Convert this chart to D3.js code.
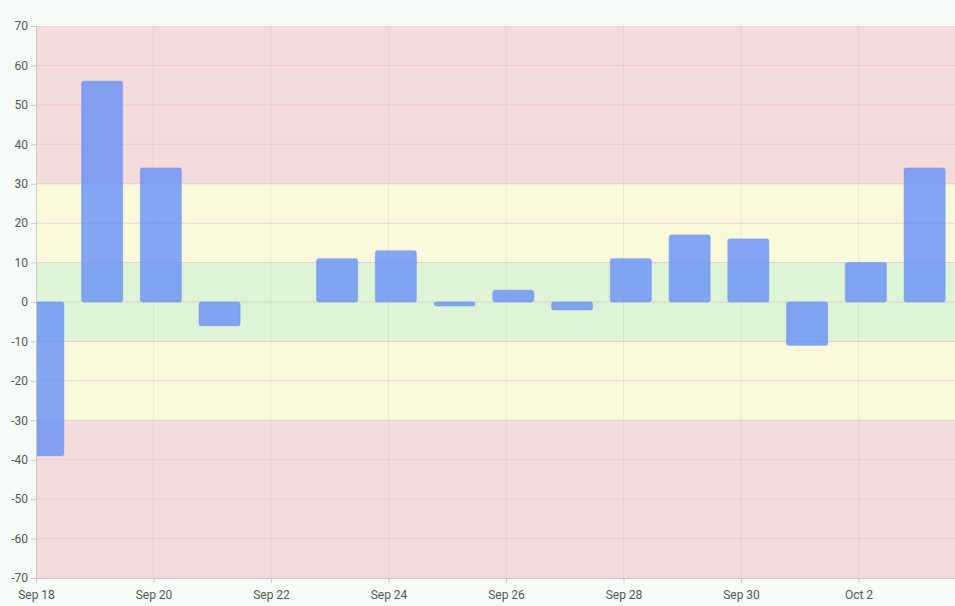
<!DOCTYPE html>
<html>
<head>
<meta charset="utf-8">
<script src="https://cdn.jsdelivr.net/npm/d3@7"></script>
<style>
  body { margin: 0; background: #f7fbf7; }
  svg { display: block; }
  .axis text { fill: #555; font-size: 12px; font-family: Roboto, sans-serif; }
  .axis path, .axis line { stroke: #c8c8c8; }
</style>
</head>
<body>
<div id="chart"></div>
<script>
// daily values, Sep 18 .. Oct 3 (null = no bar)
const days = ["2023-09-18", "2023-09-19", "2023-09-20", "2023-09-21", "2023-09-22", "2023-09-23",
  "2023-09-24", "2023-09-25", "2023-09-26", "2023-09-27", "2023-09-28", "2023-09-29",
  "2023-09-30", "2023-10-01", "2023-10-02", "2023-10-03"];
const values = [-39, 56, 34, -6, null, 11, 13, -1, 3, -2, 11, 17, 16, -11, 10, 34];

// coloured zones behind the bars
const zones = [
  { from: 30, to: 70, color: "#f5dcdc" },
  { from: 10, to: 30, color: "#f9f9dc" },
  { from: -10, to: 10, color: "#dff3d6" },
  { from: -30, to: -10, color: "#f9f9dc" },
  { from: -70, to: -30, color: "#f5dcdc" }
];
const yTicks = d3.range(-70, 71, 10);

const width = 955, height = 606;
const margin = { top: 26, right: 0, bottom: 28, left: 36 };

const svg = d3.select("#chart").append("svg")
  .attr("width", width)
  .attr("height", height);

const parse = d3.timeParse("%Y-%m-%d");
const dayPx = 58.75;

const x = d3.scaleTime()
  .domain([parse(days[0]), parse("2023-10-04")])
  .range([margin.left, margin.left + 16 * dayPx]);

const y = d3.scaleLinear()
  .domain([-70, 70])
  .range([height - margin.bottom, margin.top]);

svg.append("clipPath").attr("id", "plot")
  .append("rect")
  .attr("x", margin.left).attr("y", margin.top)
  .attr("width", width - margin.left)
  .attr("height", height - margin.top - margin.bottom);

const plot = svg.append("g").attr("clip-path", "url(#plot)");

plot.selectAll("rect.zone")
  .data(zones)
  .enter().append("rect")
  .attr("class", "zone")
  .attr("x", margin.left)
  .attr("width", width - margin.left)
  .attr("y", d => y(d.to))
  .attr("height", d => y(d.from) - y(d.to))
  .style("fill", d => d.color);

// grid
plot.append("g")
  .selectAll("line")
  .data(yTicks)
  .enter().append("line")
  .attr("x1", margin.left).attr("x2", width)
  .attr("y1", d => y(d)).attr("y2", d => y(d))
  .style("stroke", d => d === 0 ? "#d3d6cc" : "#e8cccc")
  .style("stroke-width", 1);

const xTicks = days.filter((d, i) => i % 2 === 0).map(parse);
plot.append("g")
  .selectAll("line")
  .data(xTicks)
  .enter().append("line")
  .attr("x1", d => x(d)).attr("x2", d => x(d))
  .attr("y1", margin.top).attr("y2", height - margin.bottom)
  .style("stroke", "#000")
  .style("stroke-opacity", 0.05);

// bars, offset a few hours into each day
const offset = 3 * 3600 * 1000;
const barW = 41;
plot.selectAll("rect.bar")
  .data(days.map((d, i) => ({ date: parse(d), value: values[i] })).filter(d => d.value !== null))
  .enter().append("rect")
  .attr("class", "bar")
  .attr("x", d => x(new Date(+d.date + offset)) - barW / 2)
  .attr("width", barW)
  .attr("y", d => y(Math.max(0, d.value)))
  .attr("height", d => Math.abs(y(d.value) - y(0)))
  .attr("rx", 2)
  .style("fill", "rgba(102,144,246,0.8)")
  .style("stroke", "rgba(102,144,246,0.5)")
  .style("stroke-width", 1);

// axes
svg.append("g")
  .attr("class", "axis")
  .attr("transform", `translate(${margin.left},0)`)
  .call(d3.axisLeft(y).tickValues(yTicks).tickSize(5).tickSizeOuter(0).tickFormat(d => String(d)))
  .call(g => g.select(".domain").attr("d", `M0.5,${margin.top}V${height - margin.bottom}`));

svg.append("g")
  .attr("class", "axis")
  .attr("transform", `translate(0,${height - margin.bottom})`)
  .call(d3.axisBottom(x).tickValues(xTicks).tickSize(5).tickSizeOuter(0)
    .tickFormat(d3.timeFormat("%b %-d")))
  .call(g => g.select(".domain").attr("d", `M${margin.left},0.5H${width}`))
  .call(g => g.selectAll("text").attr("dy", "1.1em"));
</script>
</body>
</html>
